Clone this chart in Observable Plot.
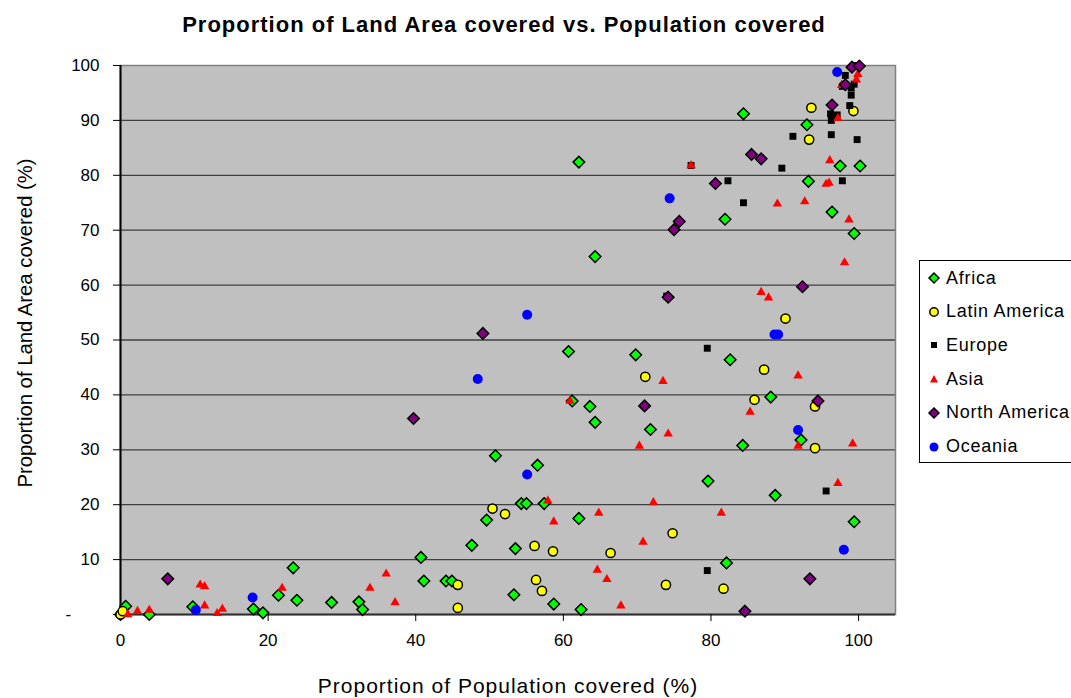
<!DOCTYPE html>
<html>
<head>
<meta charset="utf-8">
<script src="https://cdn.jsdelivr.net/npm/d3@7"></script>
<script src="https://cdn.jsdelivr.net/npm/@observablehq/plot@0.6"></script>
<style>
  body { margin: 0; background: #fff; font-family: "Liberation Sans", Arial, sans-serif; }
  #wrap { position: relative; width: 1071px; height: 698px; overflow: hidden; }
  #title { position: absolute; top: 12px; left: 0; width: 1008px; text-align: center; font-weight: bold; font-size: 22px; letter-spacing: 1px; color: #000; }
  #chart { position: absolute; top: 45px; left: 0; }
  #legend { position: absolute; left: 919px; top: 260px; width: 170px; height: 201px; border: 1px solid #000; background: #fff; }
  .item { position: absolute; left: 0; height: 20px; display: flex; align-items: center; font-size: 18px; letter-spacing: 0.75px; color: #000; white-space: nowrap; }
  .item svg { margin-left: 7px; margin-right: 5px; }
  .xlab text { letter-spacing: 1px; }
</style>
</head>
<body>
<div id="wrap">
  <div id="title">Proportion of Land Area covered vs. Population covered</div>
  <div id="chart"></div>
  <div id="legend"></div>
</div>
<script>
// ---- data: [population covered %, land area covered %] ----
const seriesNames = ["Africa", "Latin America", "Europe", "Asia", "North America", "Oceania"];

const africa = [[0,0],[0.7,1.5],[3.9,0],[9.8,1.4],[18.0,1.0],[19.3,0.3],[21.4,3.5],[23.4,8.5],[23.9,2.6],[28.6,2.2],[32.3,2.3],[32.8,0.9],[40.7,10.4],[41.1,6.1],[44.1,6.1],[44.9,6.1],[47.6,12.6],[49.6,17.2],[50.8,28.9],[53.3,3.6],[53.5,12.0],[54.3,20.2],[55.0,20.2],[56.5,27.2],[57.4,20.2],[58.7,1.9],[60.7,47.9],[61.2,38.9],[62.1,17.5],[62.1,82.4],[62.4,0.9],[63.6,37.9],[64.3,35.0],[64.3,65.2],[69.8,47.3],[71.8,33.7],[79.6,24.3],[81.9,72.0],[82.1,9.4],[82.6,46.4],[84.3,30.8],[84.4,91.2],[88.1,39.6],[88.7,21.7],[92.2,31.8],[93.0,89.2],[93.2,78.9],[96.4,73.3],[97.5,81.7],[99.4,69.4],[99.4,16.9],[100.2,81.7]];

const latinAmerica = [[0,0],[0.3,0.6],[45.7,5.4],[45.7,1.2],[50.4,19.3],[52.1,18.3],[56.1,12.5],[56.3,6.3],[57.1,4.3],[58.6,11.5],[66.4,11.2],[71.1,43.3],[73.9,5.4],[74.8,14.8],[81.7,4.7],[85.9,39.1],[87.2,44.6],[90.1,53.9],[93.3,86.5],[93.6,92.3],[94.1,37.9],[94.1,30.3],[99.3,91.7]];

const europe = [[74.0,58.0],[77.3,81.8],[79.5,48.5],[79.5,8.0],[82.3,79.0],[84.4,75.0],[89.6,81.3],[91.1,87.1],[95.6,22.5],[96.3,87.4],[96.2,91.2],[96.3,90.0],[97.1,91.0],[97.8,79.0],[97.8,96.2],[98.8,92.7],[99.0,95.9],[99.0,94.6],[99.4,96.6],[99.3,100],[98.2,98.2],[99.8,86.5]];

const asia = [[1.0,0],[2.3,0.6],[3.9,0.8],[10.8,5.4],[11.4,5.1],[11.4,1.6],[13.1,0.2],[13.8,1.0],[21.9,4.8],[33.8,4.8],[36.0,7.4],[37.2,2.2],[57.9,20.7],[58.7,16.9],[60.9,38.9],[64.6,8.1],[64.8,18.5],[65.9,6.4],[67.8,1.6],[70.3,30.7],[70.8,13.2],[72.2,20.4],[73.5,42.5],[74.2,32.9],[77.3,81.8],[81.4,18.5],[85.3,36.9],[86.8,58.7],[87.8,57.7],[89.0,74.8],[91.8,43.5],[91.8,30.7],[92.7,75.2],[95.6,78.4],[96.0,78.6],[96.1,82.7],[97.2,23.9],[97.2,90.4],[97.7,96.4],[98.1,64.1],[98.7,71.9],[99.2,31.1],[99.7,97.4],[99.9,98.4]];

const northAmerica = [[6.4,6.5],[39.7,35.7],[49.1,51.2],[71.0,38.0],[74.2,57.8],[75.0,70.1],[75.7,71.6],[80.6,78.5],[84.6,0.6],[85.5,83.8],[86.8,83.0],[92.4,59.7],[93.4,6.5],[94.5,38.9],[96.4,92.8],[98.2,96.5],[99.1,99.7],[100.1,99.9]];

const oceania = [[10.2,0.8],[17.9,3.1],[48.4,42.9],[55.1,54.6],[55.1,25.5],[74.4,75.8],[88.6,51.0],[89.1,51.0],[91.8,33.6],[97.1,98.8],[98.0,11.8]];

const xTicks = [0, 20, 40, 60, 80, 100];
const yTicks = [0, 10, 20, 30, 40, 50, 60, 70, 80, 90, 100];

// ---- styles ----
const styles = [
  {data: africa,       symbol: "diamond2", r: 5.2, fill: "#00ff00", stroke: "#000", sw: 1.5},
  {data: latinAmerica, symbol: "circle",   r: 4.6, fill: "#ffff00", stroke: "#000", sw: 1.5},
  {data: europe,       symbol: "square",   r: 3.9, fill: "#000000", stroke: "none", sw: 0},
  {data: asia,         symbol: "triangle", r: 3.5, fill: "#ff0000", stroke: "none", sw: 0},
  {data: northAmerica, symbol: "diamond2", r: 5.2, fill: "#800080", stroke: "#000", sw: 1.5},
  {data: oceania,      symbol: "circle",   r: 5.0, fill: "#0000ff", stroke: "none", sw: 0}
];

const dotMarks = styles.map(s => Plot.dot(s.data, {
  x: d => d[0], y: d => d[1], symbol: s.symbol, r: s.r,
  fill: s.fill, stroke: s.stroke, strokeWidth: s.sw
}));

const chart = Plot.plot({
  width: 1071,
  height: 653,
  marginLeft: 120,
  marginRight: 176,
  marginTop: 20,
  marginBottom: 84,
  style: {fontFamily: "'Liberation Sans', Arial, sans-serif", background: "transparent", color: "#000"},
  x: {domain: [0, 105]},
  y: {domain: [0, 100]},
  marks: [
    Plot.frame({fill: "#c0c0c0"}),
    Plot.ruleY(yTicks.slice(1, -1), {stroke: "#404040", strokeWidth: 1.3}),
    Plot.frame({stroke: "#808080", strokeWidth: 1.5}),
    Plot.ruleX([0], {stroke: "#000", strokeWidth: 2}),
    Plot.ruleY([0], {stroke: "#303030", strokeWidth: 2}),
    Plot.axisX({ticks: xTicks, tickSize: 7, tickPadding: 12, fontSize: 17, label: null}),
    Plot.axisY({ticks: yTicks, tickSize: 7, tickPadding: 14, fontSize: 17, label: null,
      tickFormat: d => d === 0 ? "-\u2007\u2007\u2007" : String(d)}),
    ...dotMarks,
    Plot.text(["Proportion of Population covered (%)"], {frameAnchor: "bottom", dy: 72, fontSize: 21, lineAnchor: "middle", textAnchor: "middle", className: "xlab"}),
    Plot.text(["Proportion of Land Area covered (%)"], {frameAnchor: "left", rotate: -90, dx: -95, dy: -17, fontSize: 20.3, lineAnchor: "middle", textAnchor: "middle"})
  ]
});
document.getElementById("chart").appendChild(chart);

// ---- legend ----
const legend = document.getElementById("legend");
const legendShapes = [
  `<polygon points="7,2 12,7 7,12 2,7" fill="#00ff00" stroke="#000" stroke-width="1.5"/>`,
  `<circle cx="7" cy="7" r="4.2" fill="#ffff00" stroke="#000" stroke-width="1.5"/>`,
  `<rect x="4" y="4" width="6" height="6" fill="#000"/>`,
  `<polygon points="7,3 11,10.5 3,10.5" fill="#ff0000"/>`,
  `<polygon points="7,2 12,7 7,12 2,7" fill="#800080" stroke="#000" stroke-width="1.5"/>`,
  `<circle cx="7" cy="7" r="4.5" fill="#0000ff"/>`
];
seriesNames.forEach((name, i) => {
  const div = document.createElement("div");
  div.className = "item";
  div.style.top = (7 + i * 33.7) + "px";
  div.innerHTML = `<svg width="14" height="14">${legendShapes[i]}</svg><span>${name}</span>`;
  legend.appendChild(div);
});
</script>
</body>
</html>
